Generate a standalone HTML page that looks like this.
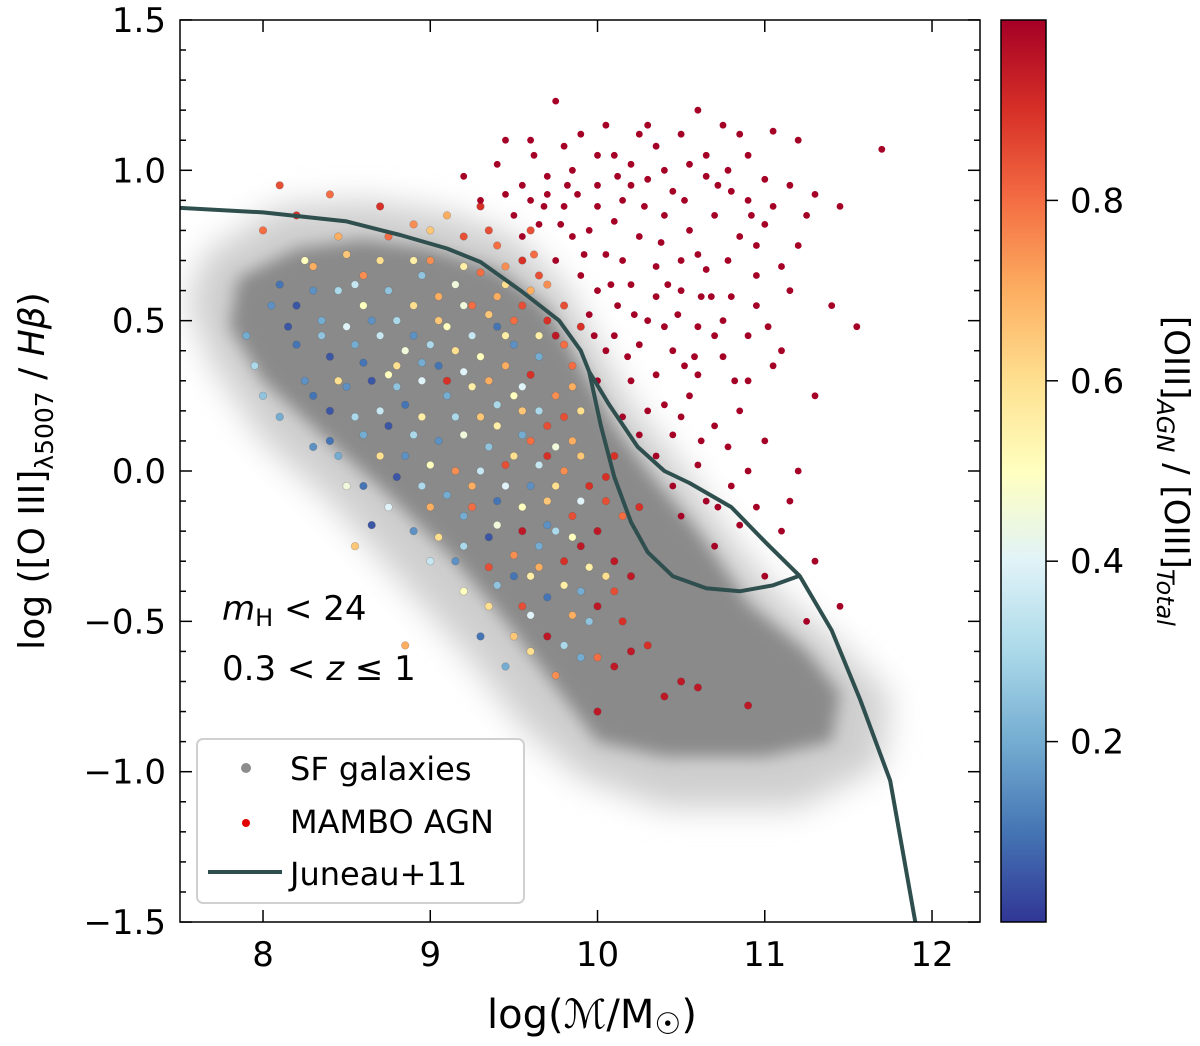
<!DOCTYPE html>
<html><head><meta charset="utf-8"><style>
body{margin:0;background:#fff;width:1200px;height:1046px;overflow:hidden;font-family:"Liberation Sans","DejaVu Sans",sans-serif}
svg text{font-family:"DejaVu Sans","Liberation Sans",sans-serif;fill:#000}
</style></head><body>
<svg id="chart" width="1200" height="1046" viewBox="0 0 1200 1046" xmlns="http://www.w3.org/2000/svg" style="position:absolute;left:0;top:0">
<defs>
<filter id="blur1" x="-20%" y="-20%" width="140%" height="140%"><feGaussianBlur stdDeviation="16"/></filter>
<filter id="blur2" x="-20%" y="-20%" width="140%" height="140%"><feGaussianBlur stdDeviation="8"/></filter>
<clipPath id="plotclip"><rect x="180" y="20" width="800" height="902"/></clipPath>
<linearGradient id="cmap" x1="0" y1="1" x2="0" y2="0">
<stop offset="0" stop-color="#313695"/><stop offset="0.1" stop-color="#4575b4"/><stop offset="0.2" stop-color="#74add1"/><stop offset="0.3" stop-color="#abd9e9"/><stop offset="0.4" stop-color="#e0f3f8"/><stop offset="0.5" stop-color="#ffffbf"/><stop offset="0.6" stop-color="#fee090"/><stop offset="0.7" stop-color="#fdae61"/><stop offset="0.8" stop-color="#f46d43"/><stop offset="0.9" stop-color="#d73027"/><stop offset="1" stop-color="#a50026"/>
</linearGradient>
</defs>
<g id="plot" clip-path="url(#plotclip)"></g>
<g id="axes"></g>
</svg>
<script>
// ---- data ----
const xTicks=[8,9,10,11,12];
const yTicks=[1.5,1.0,0.5,0.0,-0.5,-1.0,-1.5];
const yTickLabels=["1.5","1.0","0.5","0.0","\u22120.5","\u22121.0","\u22121.5"];
const cbTicks=[0.2,0.4,0.6,0.8];
const cloudHalo=[[7.65,0.72],[8.1,0.88],[8.6,0.9],[9.1,0.86],[9.5,0.78],[9.8,0.62],[10.0,0.42],[10.2,0.22],[10.5,0.02],[10.8,-0.22],[11.1,-0.42],[11.45,-0.58],[11.75,-0.75],[11.7,-0.98],[11.2,-1.12],[10.4,-1.12],[9.9,-1.02],[9.55,-0.85],[9.2,-0.6],[8.8,-0.35],[8.4,-0.1],[8.0,0.1],[7.7,0.35],[7.55,0.55]];
const cloudCore=[[7.85,0.64],[8.2,0.74],[8.6,0.77],[9.0,0.74],[9.4,0.67],[9.7,0.54],[9.9,0.35],[10.1,0.15],[10.3,0.0],[10.6,-0.2],[10.9,-0.44],[11.25,-0.6],[11.45,-0.74],[11.4,-0.9],[11.0,-0.95],[10.4,-0.95],[10.0,-0.9],[9.75,-0.72],[9.45,-0.5],[9.15,-0.3],[8.75,-0.08],[8.35,0.12],[8.0,0.3],[7.8,0.48]];
const juneauUpper=[[7.5,0.875],[8.0,0.86],[8.5,0.83],[8.82,0.785],[9.1,0.74],[9.3,0.695],[9.54,0.6],[9.77,0.5],[9.9,0.40],[9.95,0.33]];
const juneauLow=[[9.95,0.33],[10.02,0.15],[10.1,-0.02],[10.2,-0.17],[10.3,-0.27],[10.45,-0.35],[10.65,-0.39],[10.85,-0.4],[11.05,-0.38],[11.2,-0.35]];
const juneauHigh=[[9.95,0.33],[10.07,0.22],[10.24,0.08],[10.4,0.0],[10.55,-0.04],[10.8,-0.12],[11.01,-0.24],[11.21,-0.35],[11.4,-0.53],[11.57,-0.76],[11.75,-1.03],[11.9,-1.5]];
const agnRed=[[9.6,1.1],[9.75,1.23],[9.9,1.12],[10.05,1.15],[10.2,1.02],[10.35,1.08],[10.5,1.12],[10.6,1.2],[10.75,1.15],[10.9,1.05],[11.05,1.13],[11.2,1.1],[11.7,1.07],[9.4,1.02],[9.55,0.95],[9.7,0.98],[9.85,1.0],[10.0,0.95],[10.15,0.9],[10.3,0.97],[10.45,0.93],[10.65,0.98],[10.8,0.93],[11.0,0.97],[11.15,0.95],[11.3,0.92],[11.45,0.88],[9.5,0.85],[9.65,0.82],[9.8,0.88],[9.95,0.8],[10.1,0.83],[10.25,0.78],[10.4,0.85],[10.55,0.8],[10.7,0.85],[10.85,0.78],[11.0,0.82],[11.2,0.75],[9.75,0.7],[9.9,0.65],[10.05,0.72],[10.2,0.62],[10.35,0.68],[10.5,0.6],[10.65,0.67],[10.8,0.58],[10.95,0.65],[11.4,0.55],[11.55,0.48],[9.95,0.52],[10.1,0.45],[10.3,0.5],[10.45,0.4],[10.6,0.48],[10.75,0.38],[10.9,0.45],[11.05,0.35],[11.3,0.25],[10.0,0.3],[10.2,0.3],[10.4,0.22],[10.55,0.25],[10.7,0.15],[10.85,0.2],[11.0,0.1],[11.2,0.0],[10.35,0.05],[10.6,0.02],[10.8,-0.05],[10.95,-0.12],[11.1,-0.2],[11.3,-0.3],[11.45,-0.45],[10.5,-0.15],[10.7,-0.25],[11.0,-0.35],[11.25,-0.5],[9.2,0.98],[9.3,0.9],[9.45,1.1],[10.1,1.05],[10.4,1.0],[10.65,1.05],[10.9,0.9],[9.85,0.78],[10.2,0.95],[10.6,0.72],[10.95,0.55],[11.15,0.6],[10.0,0.6],[10.5,0.7],[10.75,0.5],[11.1,0.4],[9.62,1.05],[9.88,0.92],[10.12,0.98],[10.28,0.88],[10.52,0.9],[10.72,0.95],[10.95,0.75],[10.15,0.7],[10.42,0.62],[10.68,0.58],[10.25,0.42],[10.52,0.35],[10.82,0.3],[10.15,0.18],[10.45,0.12],[10.9,0.0],[10.65,-0.1],[9.7,0.92],[10.0,0.88],[10.38,0.76],[10.78,0.7],[11.05,0.88],[11.25,0.85],[9.8,1.08],[10.25,1.12],[10.85,1.12],[9.55,0.78],[9.68,0.88],[9.82,0.95],[9.92,0.72],[10.08,0.62],[10.22,0.52],[10.35,0.58],[10.48,0.52],[10.62,0.58],[10.7,0.45],[10.58,0.38],[10.35,0.32],[10.18,0.38],[10.3,0.2],[10.5,0.18],[10.62,0.1],[10.78,0.08],[10.9,0.3],[11.02,0.48],[11.1,0.68],[10.92,0.85],[10.78,1.0],[10.55,1.02],[10.3,1.15],[10.0,1.05],[9.78,0.82],[9.6,0.9],[9.45,0.92],[10.12,0.55],[10.4,0.48],[10.6,0.32],[10.25,0.12],[10.45,-0.05],[10.72,-0.12],[10.85,-0.18],[11.15,-0.1],[10.05,0.4],[9.98,0.45]];
const agnMixed=[[8.1,0.95,0.85],[8.4,0.92,0.8],[8.7,0.88,0.9],[8.9,0.82,0.75],[9.1,0.85,0.7],[9.2,0.78,0.85],[9.4,0.75,0.8],[9.55,0.7,0.9],[9.7,0.62,0.75],[9.8,0.55,0.85],[8.3,0.68,0.7],[8.5,0.72,0.65],[8.7,0.7,0.6],[9.0,0.7,0.75],[9.3,0.66,0.8],[9.6,0.6,0.7],[9.75,0.45,0.95],[9.85,0.35,0.8],[8.1,0.62,0.1],[8.2,0.55,0.05],[8.35,0.5,0.2],[8.45,0.6,0.3],[8.6,0.55,0.5],[8.75,0.6,0.25],[8.9,0.55,0.6],[9.05,0.58,0.7],[9.2,0.55,0.45],[9.35,0.52,0.65],[9.5,0.5,0.8],[9.65,0.45,0.55],[8.2,0.42,0.1],[8.4,0.38,0.05],[8.55,0.42,0.2],[8.7,0.45,0.35],[8.85,0.4,0.45],[9.0,0.42,0.3],[9.15,0.4,0.6],[9.3,0.38,0.5],[9.45,0.35,0.7],[9.6,0.32,0.9],[9.75,0.25,0.75],[8.3,0.25,0.1],[8.5,0.28,0.15],[8.65,0.3,0.05],[8.8,0.28,0.25],[8.95,0.3,0.4],[9.1,0.25,0.2],[9.25,0.28,0.55],[9.4,0.22,0.3],[9.55,0.2,0.65],[9.7,0.15,0.85],[9.85,0.1,0.7],[8.4,0.1,0.1],[8.6,0.12,0.2],[8.75,0.15,0.05],[8.9,0.12,0.3],[9.05,0.1,0.15],[9.2,0.12,0.45],[9.35,0.08,0.25],[9.5,0.05,0.6],[9.65,0.02,0.35],[9.8,0.0,0.75],[9.95,-0.05,0.9],[8.6,-0.05,0.1],[8.8,-0.02,0.05],[8.95,-0.05,0.3],[9.1,-0.08,0.2],[9.25,-0.05,0.7],[9.4,-0.1,0.1],[9.55,-0.12,0.5],[9.7,-0.1,0.65],[9.85,-0.15,0.85],[10.0,-0.2,0.95],[8.9,-0.2,0.15],[9.05,-0.22,0.6],[9.2,-0.25,0.3],[9.35,-0.22,0.05],[9.5,-0.28,0.75],[9.65,-0.25,0.2],[9.8,-0.3,0.9],[9.95,-0.32,0.55],[10.1,-0.3,0.95],[9.2,-0.4,0.5],[9.4,-0.38,0.25],[9.55,-0.45,0.85],[9.7,-0.42,0.1],[9.85,-0.48,0.7],[10.0,-0.45,0.95],[10.15,-0.5,0.9],[9.6,-0.6,0.6],[9.8,-0.58,0.3],[10.0,-0.62,0.8],[10.2,-0.6,0.95],[10.5,-0.7,0.95],[10.6,-0.72,0.95],[10.9,-0.78,0.95],[8.85,-0.58,0.7],[8.55,-0.25,0.65],[8.0,0.25,0.25],[7.9,0.45,0.2],[9.3,0.88,0.9],[9.6,0.8,0.85],[9.45,0.62,0.6],[9.1,0.48,0.5],[8.95,0.18,0.55],[9.3,0.18,0.65],[9.6,0.1,0.8],[9.75,-0.2,0.3],[9.9,-0.4,0.2],[10.05,-0.1,0.85],[9.45,-0.05,0.4],[9.15,0.0,0.75],[8.8,0.35,0.6],[8.5,0.48,0.4],[8.25,0.3,0.15],[9.9,0.2,0.6],[10.1,0.05,0.9],[9.6,-0.35,0.55],[9.35,-0.32,0.85],[9.05,0.35,0.1],[9.2,0.68,0.55],[9.5,0.42,0.15],[8.7,0.2,0.35],[8.4,0.2,0.05],[9.25,-0.12,0.8],[9.65,0.38,0.2],[9.75,0.08,0.45],[8.6,0.65,0.75],[8.95,0.65,0.25],[9.4,0.48,0.1],[9.55,0.28,0.4],[9.9,-0.25,0.95],[10.05,-0.35,0.6],[8.2,0.85,0.9],[8.0,0.8,0.8],
[8.3,0.6,0.15],[8.55,0.62,0.35],[8.8,0.5,0.3],[9.05,0.5,0.65],[9.25,0.45,0.35],[9.4,0.58,0.7],[9.55,0.55,0.85],[9.7,0.5,0.9],[9.8,0.42,0.8],[9.65,0.65,0.85],[9.45,0.68,0.75],[9.15,0.62,0.45],[8.9,0.7,0.55],[8.65,0.5,0.15],[8.35,0.45,0.25],[8.15,0.48,0.05],[8.6,0.36,0.1],[8.75,0.32,0.5],[8.95,0.36,0.2],[9.2,0.33,0.4],[9.35,0.3,0.7],[9.5,0.25,0.5],[9.65,0.2,0.3],[9.8,0.18,0.85],[9.9,0.05,0.65],[9.7,0.05,0.9],[9.55,0.12,0.2],[9.4,0.15,0.55],[9.15,0.18,0.3],[8.85,0.22,0.1],[8.55,0.18,0.3],[8.45,0.05,0.2],[8.7,0.05,0.6],[8.85,0.05,0.15],[9.0,0.02,0.5],[9.3,-0.0,0.35],[9.45,0.02,0.85],[9.6,-0.05,0.15],[9.75,-0.05,0.6],[9.9,-0.1,0.4],[10.05,-0.02,0.9],[10.15,-0.15,0.8],[10.1,-0.4,0.85],[9.95,-0.5,0.25],[9.8,-0.38,0.55],[9.65,-0.32,0.7],[9.5,-0.35,0.1],[9.35,-0.45,0.6],[9.15,-0.3,0.15],[9.0,-0.12,0.7],[8.75,-0.12,0.4],[8.65,-0.18,0.05],[9.0,-0.3,0.35],[9.3,-0.55,0.1],[9.5,-0.55,0.65],[9.7,-0.55,0.95],[9.9,-0.62,0.2],[10.1,-0.65,0.95],[10.3,-0.58,0.9],[10.2,-0.35,0.95],[10.25,-0.12,0.9],[9.85,0.28,0.7],[9.9,0.48,0.9],[9.62,0.72,0.8],[9.35,0.8,0.85],[9.0,0.8,0.65],[8.75,0.78,0.8],[8.45,0.78,0.7],[8.25,0.7,0.5],[8.05,0.55,0.15],[7.95,0.35,0.3],[8.1,0.18,0.2],[8.3,0.08,0.15],[8.5,-0.05,0.45],[9.45,0.45,0.55],[9.25,0.55,0.8],[9.1,0.3,0.9],[8.9,0.45,0.15],[8.45,0.3,0.6],[9.55,-0.2,0.95],[9.4,-0.18,0.45],[9.2,-0.15,0.2],[9.7,-0.18,0.15],[9.85,-0.22,0.5],[9.6,-0.48,0.4],[9.45,-0.65,0.2],[9.75,-0.68,0.75],[10.0,-0.8,0.95],[10.4,-0.75,0.95]];
// ---- axes functions ----
const X0=179.4,PX=167.25,Y0=471,PY=300.7;
const sx=v=>X0+(v-7.5)*PX;
const sy=v=>Y0-v*PY;
const cbY=v=>922-v*902;
const NS="http://www.w3.org/2000/svg";
function mk(tag,attrs,parent){const e=document.createElementNS(NS,tag);for(const k in attrs)e.setAttribute(k,attrs[k]);parent.appendChild(e);return e;}
const stops=[[0,[49,54,149]],[0.1,[69,117,180]],[0.2,[116,173,209]],[0.3,[171,217,233]],[0.4,[224,243,248]],[0.5,[255,255,191]],[0.6,[254,224,144]],[0.7,[253,174,97]],[0.8,[244,109,67]],[0.9,[215,48,39]],[1,[165,0,38]]];
function cmap(v){for(let i=1;i<stops.length;i++){if(v<=stops[i][0]){const a=stops[i-1],b=stops[i],t=(v-a[0])/(b[0]-a[0]);return 'rgb('+a[1].map((c,j)=>Math.round(c+(b[1][j]-c)*t)).join(',')+')';}}return 'rgb(165,0,38)';}
const plot=document.getElementById('plot'),axes=document.getElementById('axes');
const poly=a=>a.map(p=>sx(p[0]).toFixed(1)+','+sy(p[1]).toFixed(1)).join(' ');
let e;
e=mk('polygon',{points:poly(cloudHalo),fill:'#cfcfcf',filter:'url(#blur1)'},plot);


e=mk('polygon',{points:poly(cloudCore),fill:'#8a8a8a',filter:'url(#blur2)'},plot);


agnMixed.forEach(p=>{
 const c=mk('circle',{cx:sx(p[0]).toFixed(1),cy:sy(p[1]).toFixed(1),r:3.8,fill:cmap(p[2]),stroke:'rgba(80,80,80,0.35)','stroke-width':0.6},plot);
 
 
});
agnRed.forEach(p=>{
 const c=mk('circle',{cx:sx(p[0]).toFixed(1),cy:sy(p[1]).toFixed(1),r:3.4,fill:'#a50026'},plot);
 
 
});
const pth=a=>'M'+a.map(p=>sx(p[0]).toFixed(1)+','+sy(p[1]).toFixed(1)).join(' L');
[['juneau-upper',juneauUpper],['juneau-lower-branch',juneauLow],['juneau-upper-branch',juneauHigh]].forEach(([n,a])=>{
 const l=mk('path',{d:pth(a),fill:'none',stroke:'#2f4f4f','stroke-width':4,'stroke-linejoin':'round'},plot);
 
 
});
e=mk('rect',{x:180,y:20,width:800,height:902,fill:'none',stroke:'#000','stroke-width':1.5},axes);


xTicks.forEach(v=>{
 const x=sx(v);
 mk('line',{x1:x,y1:922,x2:x,y2:910,stroke:'#000','stroke-width':1.5},axes);
 mk('line',{x1:x,y1:20,x2:x,y2:32,stroke:'#000','stroke-width':1.5},axes);
 const t=mk('text',{x:x,y:966,'font-size':34,'text-anchor':'middle'},axes);t.textContent=v;
 
 
});
for(let k=-15;k<=15;k++){const v=k/10,y=sy(v),maj=(k%5===0);
 mk('line',{x1:180,y1:y,x2:180+(maj?12:6),y2:y,stroke:'#000','stroke-width':1.5},axes);
 mk('line',{x1:980,y1:y,x2:980-(maj?12:6),y2:y,stroke:'#000','stroke-width':1.5},axes);}
yTicks.forEach((v,i)=>{
 const t=mk('text',{x:166,y:sy(v)+12,'font-size':34,'text-anchor':'end'},axes);t.textContent=yTickLabels[i];
 
 
});
e=mk('rect',{x:1001,y:20,width:45,height:902,fill:'url(#cmap)',stroke:'#000','stroke-width':1.5},axes);


cbTicks.forEach(v=>{
 const y=cbY(v);
 mk('line',{x1:1046,y1:y,x2:1058,y2:y,stroke:'#000','stroke-width':1.5},axes);
 const t=mk('text',{x:1070,y:y+12,'font-size':34},axes);t.textContent=v.toFixed(1);
 
 
});
</script>
<svg style="position:absolute;left:0;top:0" width="1200" height="1046">
<text transform="translate(44,471) rotate(-90)" text-anchor="middle" font-size="36" style="font-family:'DejaVu Sans',sans-serif">log ([O III]<tspan font-size="25" dy="9">λ5007</tspan><tspan dy="-9"> / </tspan><tspan font-style="italic">Hβ</tspan>)</text>
<text x="592" y="1028" text-anchor="middle" font-size="40" style="font-family:'DejaVu Sans',sans-serif">log(<tspan font-style="italic">ℳ</tspan>/M<tspan font-size="30" dy="6">☉</tspan><tspan dy="-6">)</tspan></text>
<text transform="translate(1165,471) rotate(90)" text-anchor="middle" font-size="34" style="font-family:'DejaVu Sans',sans-serif">[OIII]<tspan font-size="24" dy="8" font-style="italic">AGN</tspan><tspan dy="-8"> / [OIII]</tspan><tspan font-size="24" dy="8" font-style="italic">Total</tspan></text>
<text x="222" y="620" font-size="34" style="font-family:'DejaVu Sans',sans-serif"><tspan font-style="italic">m</tspan><tspan font-size="24" dy="6">H</tspan><tspan dy="-6"> &lt; 24</tspan></text>
<text x="222" y="680" font-size="34" style="font-family:'DejaVu Sans',sans-serif">0.3 &lt; <tspan font-style="italic">z</tspan> ≤ 1</text>
<g>
<rect x="197" y="739" width="327" height="164" rx="6" fill="rgba(255,255,255,0.85)" stroke="#d0d0d0" stroke-width="2"/>
<circle cx="246" cy="768" r="5" fill="#8c8c8c"/>
<text x="290" y="780" font-size="32" style="font-family:'DejaVu Sans',sans-serif">SF galaxies</text>
<circle cx="246" cy="823" r="4" fill="#e00000"/>
<text x="290" y="833" font-size="32" style="font-family:'DejaVu Sans',sans-serif">MAMBO AGN</text>
<line x1="208" y1="872" x2="282" y2="872" stroke="#2f4f4f" stroke-width="4"/>
<text x="290" y="885" font-size="32" style="font-family:'DejaVu Sans',sans-serif">Juneau+11</text>
</g>
</svg>
</body></html>
